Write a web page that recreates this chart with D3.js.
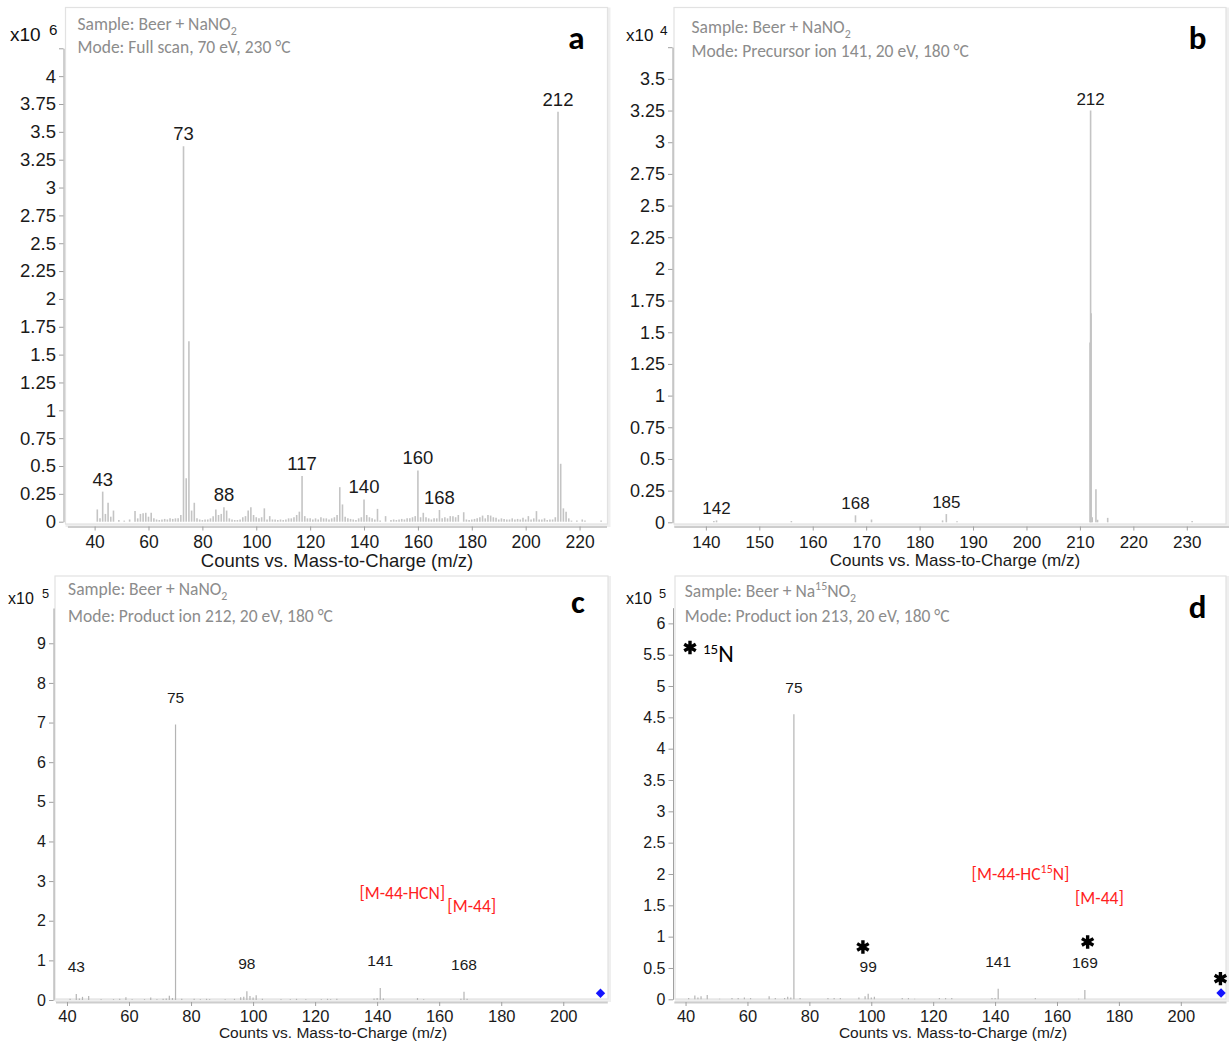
<!DOCTYPE html>
<html>
<head>
<meta charset="utf-8">
<script src="https://cdn.jsdelivr.net/npm/d3@7"></script>
<style>
  body { margin: 0; background: #fff; }
  svg { display: block; }
</style>
</head>
<body>
<svg id="fig" width="1229" height="1046"></svg>
<script>
// ---------------- spectra: [m/z, counts in units of the panel's exponent] ----------------
const spectrumA = [
  [41,0.11],[42,0.03],[43,0.27],[44,0.07],[45,0.17],[46,0.045],[47,0.10],[49,0.015],[51,0.01],[53,0.02],
  [55,0.095],[56,0.03],[57,0.07],[58,0.075],[59,0.08],[60,0.045],[61,0.08],[62,0.03],[63,0.02],[64,0.015],
  [65,0.02],[66,0.025],[67,0.02],[68,0.03],[69,0.025],[70,0.03],[71,0.03],[72,0.06],[73,3.37],[74,0.39],
  [75,1.62],[76,0.10],[77,0.17],[78,0.03],[79,0.02],[80,0.015],[81,0.02],[82,0.02],[83,0.03],[84,0.05],
  [85,0.11],[86,0.06],[87,0.07],[88,0.13],[89,0.10],[90,0.03],[91,0.02],[92,0.015],[93,0.015],[94,0.02],
  [95,0.04],[96,0.05],[97,0.10],[98,0.13],[99,0.06],[100,0.04],[101,0.03],[102,0.04],[103,0.12],[104,0.02],
  [105,0.05],[106,0.02],[107,0.02],[108,0.015],[109,0.02],[110,0.015],[111,0.02],[112,0.03],[113,0.03],[114,0.04],
  [115,0.06],[116,0.09],[117,0.41],[118,0.05],[119,0.03],[120,0.03],[121,0.02],[122,0.03],[123,0.02],[124,0.04],
  [125,0.03],[126,0.03],[127,0.02],[128,0.03],[129,0.04],[130,0.06],[131,0.31],[132,0.155],[133,0.045],[134,0.03],
  [135,0.025],[136,0.02],[137,0.015],[138,0.03],[139,0.04],[140,0.20],[141,0.06],[142,0.04],[143,0.03],[144,0.02],
  [145,0.115],[146,0.01],[148,0.05],[150,0.015],[151,0.02],[152,0.015],[153,0.02],[154,0.025],[155,0.02],[156,0.03],
  [157,0.03],[158,0.04],[159,0.05],[160,0.46],[161,0.04],[162,0.08],[163,0.04],[164,0.03],[165,0.02],[166,0.03],
  [167,0.03],[168,0.105],[169,0.03],[170,0.04],[171,0.03],[172,0.05],[173,0.05],[174,0.04],[175,0.06],[177,0.085],
  [178,0.02],[179,0.015],[180,0.02],[181,0.025],[182,0.03],[183,0.04],[184,0.055],[185,0.03],[186,0.06],[187,0.055],
  [188,0.04],[189,0.035],[190,0.02],[191,0.03],[192,0.025],[193,0.02],[194,0.02],[195,0.03],[196,0.02],[197,0.025],
  [198,0.02],[199,0.035],[200,0.02],[201,0.05],[202,0.02],[203,0.03],[204,0.095],[205,0.02],[206,0.02],[207,0.03],
  [208,0.015],[209,0.02],[210,0.02],[211,0.04],[212,3.68],[213,0.52],[214,0.12],[215,0.09],[216,0.03],[217,0.01],
  [219,0.01],[221,0.02],[222,0.01],[228,0.01]
];
const spectrumB = [
  [141.5,0.01],[142,0.015],[156,0.01],[168,0.055],[171,0.022],[184.3,0.015],[185,0.065],[187,0.008],
  [211.9,1.42],[212,3.25],[212.1,1.65],[212.3,0.04],[213,0.26],[213.3,0.02],[215.2,0.035],[231,0.01]
];
const spectrumC = [
  [41,0.03],[43,0.15],[44,0.04],[45,0.08],[47,0.10],[51,0.02],[55,0.02],[57,0.03],[59,0.07],[61,0.02],
  [65,0.02],[67,0.06],[69,0.02],[71,0.03],[72,0.04],[73,0.11],[74,0.05],[75,6.95],[77,0.03],[81,0.03],
  [83,0.02],[85,0.03],[86,0.02],[91,0.02],[94,0.03],[96,0.07],[97,0.08],[98,0.22],[99,0.10],[100,0.06],
  [101,0.12],[103,0.03],[109,0.02],[112,0.02],[114,0.03],[117,0.02],[122,0.02],[124,0.03],[125,0.02],[127,0.03],
  [139,0.04],[140,0.05],[141,0.30],[142,0.04],[153,0.05],[155,0.02],[167,0.03],[168,0.21],[169,0.03]
];
const spectrumD = [
  [41,0.02],[43,0.06],[44,0.03],[45,0.05],[47,0.07],[51,0.01],[55,0.02],[57,0.02],[59,0.03],[61,0.02],
  [67,0.05],[69,0.02],[72,0.02],[73,0.04],[74,0.03],[75,4.55],[77,0.02],[86,0.02],[88,0.02],[90,0.02],
  [96,0.03],[98,0.05],[99,0.09],[100,0.03],[101,0.04],[110,0.02],[112,0.02],[114,0.01],[122,0.02],[124,0.02],
  [126,0.02],[139,0.02],[140,0.02],[141,0.17],[153,0.02],[167,0.01],[169,0.15]
];

// labelled m/z values
const labelsA = [43, 73, 88, 117, 140, 160, 168, 212];
const labelsB = [142, 168, 185, 212];
const labelsC = [43, 75, 98, 141, 168];
const labelsD = [75, 99, 141, 169];

// precursor markers [m/z, counts]
const precursorC = [212, 0.17];
const precursorD = [213, 0.10];

// axis ticks
const xTicksA = [40, 60, 80, 100, 120, 140, 160, 180, 200, 220];
const yTicksA = [0, 0.25, 0.5, 0.75, 1, 1.25, 1.5, 1.75, 2, 2.25, 2.5, 2.75, 3, 3.25, 3.5, 3.75, 4];
const xTicksB = [140, 150, 160, 170, 180, 190, 200, 210, 220, 230];
const yTicksB = [0, 0.25, 0.5, 0.75, 1, 1.25, 1.5, 1.75, 2, 2.25, 2.5, 2.75, 3, 3.25, 3.5];
const xTicksCD = [40, 60, 80, 100, 120, 140, 160, 180, 200];
const yTicksC = [0, 1, 2, 3, 4, 5, 6, 7, 8, 9];
const yTicksD = [0, 0.5, 1, 1.5, 2, 2.5, 3, 3.5, 4, 4.5, 5, 5.5, 6];

// header lines (segments: [text, 'sub'|'sup'])
const headerA = [[['Sample: Beer + NaNO'], ['2', 'sub']], [['Mode: Full scan, 70 eV, 230 °C']]];
const headerB = [[['Sample: Beer + NaNO'], ['2', 'sub']], [['Mode: Precursor ion 141, 20 eV, 180 °C']]];
const headerC = [[['Sample: Beer + NaNO'], ['2', 'sub']], [['Mode: Product ion 212, 20 eV, 180 °C']]];
const headerD = [[['Sample: Beer + Na'], ['15', 'sup'], ['NO'], ['2', 'sub']], [['Mode: Product ion 213, 20 eV, 180 °C']]];

// fragment annotations placed at [m/z, counts]
const notesC = [
  { parts: [['[M-44-HCN]']], at: [148.1, 2.71] },
  { parts: [['[M-44]']], at: [170.5, 2.37] }
];
const notesD = [
  { parts: [['[M-44-HC'], ['15', 'sup'], ['N]']], at: [148.2, 2.0] },
  { parts: [['[M-44]']], at: [173.7, 1.61] }
];
// 15N-labelled fragments, marker centres at [m/z, counts]
const starsD = [[97.3, 0.835], [169.9, 0.915], [212.8, 0.33]];

const AXIS_TITLE = 'Counts vs. Mass-to-Charge (m/z)';
const NUM_FONT = "'Liberation Sans', Arial, sans-serif";
const TXT_FONT = "Carlito, Lato, 'Open Sans', sans-serif";

// ---------------- panel layout ----------------
const panels = [
  { letter: 'a', data: spectrumA, labels: labelsA, xTicks: xTicksA, yTicks: yTicksA, exp: '6', header: headerA,
    box: [65.5, 7.5, 607.5, 524], yAxisX: 63.5, xAxisY: 526.5,
    xDom: [29.9, 230], xRange: [67.4, 606.5], yDom: [0, 4.25], yRange: [521.7, 48.3], topTick: true,
    fs: { ytick: 18.5, xtick: 17.5, title: 18.5, peak: 18.5, head: 17.5 }, xTickY: 548, titleX: 337, titleY: 567,
    labelGap: 6, stroke: '#c4c4c4', sw: 1.6,
    headX: 77.5, headY: [30, 53.3], letterX: 576.5, letterY: 48.5,
    expX: 10, expY: 41, expFs: 19, expSupX: 49, expSupY: 35 },
  { letter: 'b', data: spectrumB, labels: labelsB, xTicks: xTicksB, yTicks: yTicksB, exp: '4', header: headerB,
    box: [674, 7.5, 1226, 524], yAxisX: 672.5, xAxisY: 526.5,
    xDom: [134, 237.9], xRange: [673.8, 1229], yDom: [0, 3.75], yRange: [522.3, 47.2], topTick: true,
    fs: { ytick: 18, xtick: 17, title: 17, peak: 17, head: 17.5 }, xTickY: 548, titleX: 955, titleY: 566,
    labelGap: 6, stroke: '#c4c4c4', sw: 1.6,
    headX: 691.5, headY: [33.3, 56.7], letterX: 1197.5, letterY: 49.3,
    expX: 626, expY: 41, expFs: 17, expSupX: 660, expSupY: 35 },
  { letter: 'c', data: spectrumC, labels: labelsC, xTicks: xTicksCD, yTicks: yTicksC, exp: '5', header: headerC,
    box: [55, 576, 608, 999], yAxisX: 53.5, xAxisY: 1002,
    xDom: [36.3, 214.2], xRange: [55.5, 607.3], yDom: [0, 9.89], yRange: [1000, 608], topTick: false,
    fs: { ytick: 16, xtick: 16.5, title: 15.5, peak: 15.5, head: 17.5 }, xTickY: 1021.5, titleX: 333, titleY: 1037.5,
    labelGap: 22, stroke: '#b4b4b4', sw: 1.2, precursor: precursorC,
    headX: 68.1, headY: [595, 621.7], letterX: 578, letterY: 613,
    expX: 8, expY: 604, expFs: 16, expSupX: 42, expSupY: 598 },
  { letter: 'd', data: spectrumD, labels: labelsD, xTicks: xTicksCD, yTicks: yTicksD, exp: '5', header: headerD,
    box: [675, 576, 1226, 999], yAxisX: 673, xAxisY: 1002,
    xDom: [36.2, 214.6], xRange: [673.8, 1226], yDom: [0, 6.25], yRange: [999.3, 607.7], topTick: false,
    fs: { ytick: 16, xtick: 16.5, title: 15.5, peak: 15.5, head: 17.5 }, xTickY: 1021.5, titleX: 953, titleY: 1037.5,
    labelGap: 21.5, stroke: '#b4b4b4', sw: 1.2, precursor: precursorD,
    notes: notesD, stars: starsD,
    headX: 684.8, headY: [597, 621.7], letterX: 1197.5, letterY: 618,
    expX: 626, expY: 604, expFs: 16, expSupX: 659, expSupY: 598 }
];
panels[2].notes = notesC;

const svg = d3.select('#fig');
const starPath = d3.symbol(d3.symbolAsterisk, 125)();
const diamondPath = d3.symbol(d3.symbolSquare, 44)();

// writes text segments with sub/superscripts into a <text> element
function richText(textSel, parts, size) {
  let shift = 0;
  parts.forEach(([t, kind]) => {
    const target = kind === 'sub' ? size * 0.28 : kind === 'sup' ? -size * 0.38 : 0;
    textSel.append('tspan')
      .attr('dy', target - shift)
      .attr('font-size', kind ? size * 0.68 : size)
      .text(t);
    shift = target;
  });
}

function drawStar(sel, cx, cy) {
  sel.append('path').attr('d', starPath).attr('transform', `translate(${cx},${cy})`)
    .attr('fill', 'none').attr('stroke', '#000').attr('stroke-width', 3.4);
}

function drawPanel(p) {
  const g = svg.append('g').attr('class', 'panel-' + p.letter);
  const x = d3.scaleLinear().domain(p.xDom).range(p.xRange);
  const y = d3.scaleLinear().domain(p.yDom).range(p.yRange);

  // plot frame with soft shadow
  const [l, t, r, b] = p.box;
  g.append('rect').attr('x', l + 1.5).attr('y', t + 1.5).attr('width', r - l).attr('height', b - t)
    .attr('fill', 'none').attr('stroke', '#efefef').attr('stroke-width', 3);
  g.append('rect').attr('x', l).attr('y', t).attr('width', r - l).attr('height', b - t)
    .attr('fill', '#fff').attr('stroke', '#e2e2e2').attr('stroke-width', 1.2);

  // header lines
  p.header.forEach((line, i) => {
    const tx = g.append('text').attr('x', p.headX).attr('y', p.headY[i])
      .attr('font-family', TXT_FONT).attr('fill', '#8c8c8c');
    richText(tx, line, p.fs.head);
  });

  // panel letter
  g.append('text').attr('x', p.letterX).attr('y', p.letterY).attr('text-anchor', 'middle')
    .attr('font-family', TXT_FONT).attr('font-weight', 'bold').attr('font-size', 33)
    .attr('fill', '#000').text(p.letter);

  // exponent label
  g.append('text').attr('x', p.expX).attr('y', p.expY).attr('font-family', NUM_FONT)
    .attr('font-size', p.expFs).attr('fill', '#111').text('x10');
  g.append('text').attr('x', p.expSupX).attr('y', p.expSupY).attr('font-family', NUM_FONT)
    .attr('font-size', p.expFs * 0.8).attr('fill', '#111').text(p.exp);

  // stick spectrum
  g.append('g').selectAll('line').data(p.data).join('line')
    .attr('x1', d => x(d[0])).attr('x2', d => x(d[0]))
    .attr('y1', y(0)).attr('y2', d => y(d[1]))
    .attr('stroke', p.stroke).attr('stroke-width', p.sw);

  // y axis
  const yVals = p.topTick ? p.yTicks.concat([p.yDom[1]]) : p.yTicks;
  const yAxis = d3.axisLeft(y).tickValues(yVals).tickSize(4.5).tickSizeOuter(0).tickPadding(3)
    .tickFormat(v => p.yTicks.includes(v) ? d3.format('~g')(v) : '');
  const ya = g.append('g').attr('transform', `translate(${p.yAxisX},0)`).call(yAxis);
  ya.select('.domain').attr('stroke', '#a0a0a0').attr('stroke-width', 1);
  ya.selectAll('.tick line').attr('stroke', '#a0a0a0');
  ya.selectAll('.tick text').attr('font-family', NUM_FONT).attr('font-size', p.fs.ytick).attr('fill', '#1a1a1a');

  // x axis
  const xAxis = d3.axisBottom(x).tickValues(p.xTicks).tickSize(4).tickSizeOuter(0).tickFormat(d3.format('d'));
  const xa = g.append('g').attr('transform', `translate(0,${p.xAxisY})`).call(xAxis);
  xa.select('.domain').attr('stroke', '#cdcdcd').attr('stroke-width', 2);
  xa.selectAll('.tick line').attr('stroke', '#a0a0a0');
  xa.selectAll('.tick text').attr('font-family', NUM_FONT).attr('font-size', p.fs.xtick).attr('fill', '#1a1a1a')
    .attr('dy', null).attr('y', p.xTickY - p.xAxisY);

  // axis title
  g.append('text').attr('x', p.titleX).attr('y', p.titleY).attr('text-anchor', 'middle')
    .attr('font-family', NUM_FONT).attr('font-size', p.fs.title).attr('fill', '#1a1a1a').text(AXIS_TITLE);

  // peak labels, placed above the tallest stick at each labelled m/z
  const peakTop = mz => d3.max(p.data.filter(d => Math.round(d[0]) === mz), d => d[1]) || 0;
  g.append('g').selectAll('text').data(p.labels).join('text')
    .attr('x', d => x(d)).attr('y', d => y(peakTop(d)) - p.labelGap)
    .attr('text-anchor', 'middle').attr('font-family', NUM_FONT).attr('font-size', p.fs.peak)
    .attr('fill', '#1a1a1a').text(d => d);

  // precursor marker (blue diamond)
  if (p.precursor) {
    g.append('path').attr('d', diamondPath)
      .attr('transform', `translate(${x(p.precursor[0])},${y(p.precursor[1])}) rotate(45)`)
      .attr('fill', '#1414ff');
  }

  // fragment annotations
  (p.notes || []).forEach(n => {
    const tx = g.append('text').attr('x', x(n.at[0])).attr('y', y(n.at[1]) + 6)
      .attr('text-anchor', 'middle').attr('font-family', TXT_FONT).attr('fill', '#ff1f1f');
    richText(tx, n.parts, 17.5);
  });

  // 15N markers
  (p.stars || []).forEach(s => drawStar(g, x(s[0]), y(s[1])));
}

panels.forEach(drawPanel);

// legend for the 15N marker in panel d
drawStar(svg, 690, 647.5);
const legend = svg.append('text').attr('x', 703).attr('y', 662).attr('font-family', TXT_FONT).attr('fill', '#000');
legend.append('tspan').attr('font-size', 15).attr('dy', -8).text('15');
legend.append('tspan').attr('font-size', 24).attr('dy', 8).text('N');
</script>
</body>
</html>
